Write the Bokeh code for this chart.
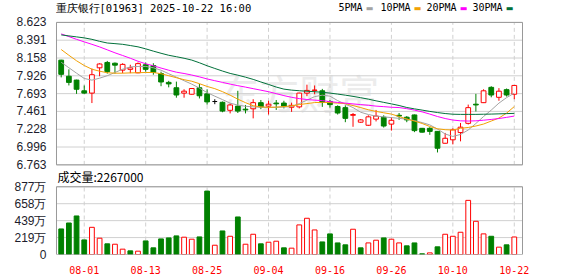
from bokeh.plotting import figure
from bokeh.models import Range1d, FixedTicker, Label, PrintfTickFormatter, ColumnDataSource
from bokeh.embed import file_html
from bokeh.resources import INLINE

# ---------------- data ----------------
title_text = "重庆银行[01963] 2025-10-22 16:00"
volume_text = "成交量:2267000"

dates = ["07-29", "07-30", "07-31", "08-01", "08-04", "08-05", "08-06", "08-07", "08-08",
         "08-11", "08-12", "08-13", "08-14", "08-15", "08-18", "08-19", "08-20", "08-21",
         "08-22", "08-25", "08-26", "08-27", "08-28", "08-29", "09-01", "09-02", "09-03",
         "09-04", "09-05", "09-08", "09-09", "09-10", "09-11", "09-12", "09-15", "09-16",
         "09-17", "09-18", "09-19", "09-22", "09-23", "09-24", "09-25", "09-26", "09-29",
         "09-30", "10-02", "10-03", "10-06", "10-08", "10-09", "10-10", "10-13", "10-14",
         "10-15", "10-16", "10-17", "10-20", "10-21", "10-22"]
tick_dates = ["08-01", "08-13", "08-25", "09-04", "09-16", "09-26", "10-10", "10-22"]

open_ = [8.130, 7.920, 7.870, 7.730, 7.700, 8.030, 8.100, 8.090, 8.000, 8.010,
         7.965, 8.070, 8.060, 7.955, 7.840, 7.770, 7.700, 7.685, 7.770, 7.690,
         7.590, 7.580, 7.475, 7.530, 7.490, 7.495, 7.575, 7.530, 7.570, 7.570,
         7.515, 7.520, 7.700, 7.735, 7.730, 7.590, 7.525, 7.510, 7.410, 7.320,
         7.280, 7.360, 7.385, 7.295, 7.410, 7.385, 7.415, 7.240, 7.240, 7.200,
         7.045, 7.090, 7.185, 7.305, 7.555, 7.575, 7.775, 7.645, 7.745, 7.685]
high = [8.135, 8.010, 7.875, 7.800, 8.020, 8.090, 8.120, 8.100, 8.090, 8.070,
        8.100, 8.100, 8.090, 7.980, 7.860, 7.850, 7.750, 7.765, 7.820, 7.750,
        7.620, 7.590, 7.565, 7.730, 7.545, 7.620, 7.610, 7.600, 7.610, 7.600,
        7.575, 7.705, 7.810, 7.800, 7.755, 7.610, 7.540, 7.540, 7.440, 7.360,
        7.410, 7.480, 7.410, 7.385, 7.440, 7.400, 7.420, 7.245, 7.255, 7.200,
        7.180, 7.240, 7.310, 7.550, 7.690, 7.750, 7.790, 7.765, 7.760, 7.805]
low = [7.905, 7.800, 7.690, 7.690, 7.570, 7.920, 7.955, 7.955, 7.960, 7.960,
       7.960, 7.980, 7.940, 7.790, 7.775, 7.640, 7.640, 7.680, 7.630, 7.550,
       7.555, 7.450, 7.435, 7.440, 7.435, 7.370, 7.490, 7.420, 7.480, 7.500,
       7.455, 7.500, 7.660, 7.685, 7.520, 7.510, 7.420, 7.320, 7.260, 7.310,
       7.270, 7.330, 7.250, 7.210, 7.350, 7.320, 7.190, 7.185, 7.155, 6.925,
       7.040, 7.030, 7.070, 7.290, 7.460, 7.570, 7.645, 7.600, 7.655, 7.620]
close = [7.945, 7.840, 7.750, 7.700, 7.940, 8.080, 7.980, 8.065, 8.075, 8.030,
         8.085, 8.010, 7.970, 7.845, 7.820, 7.675, 7.725, 7.760, 7.665, 7.585,
         7.590, 7.465, 7.545, 7.465, 7.480, 7.575, 7.520, 7.555, 7.560, 7.530,
         7.540, 7.700, 7.735, 7.740, 7.580, 7.550, 7.440, 7.370, 7.420, 7.350,
         7.390, 7.400, 7.270, 7.345, 7.400, 7.350, 7.210, 7.190, 7.200, 6.980,
         7.110, 7.220, 7.255, 7.510, 7.545, 7.730, 7.675, 7.725, 7.675, 7.800]

ma5 = [8.103, 8.031, 7.960, 7.891, 7.869, 7.895, 7.927, 7.969, 8.012, 8.042,
       8.048, 8.048, 8.031, 7.999, 7.953, 7.908, 7.862, 7.817, 7.765, 7.706,
       7.660, 7.615, 7.569, 7.543, 7.528, 7.520, 7.515, 7.514, 7.514, 7.517,
       7.526, 7.563, 7.608, 7.654, 7.673, 7.660, 7.602, 7.556, 7.511, 7.450,
       7.420, 7.400, 7.390, 7.380, 7.370, 7.360, 7.340, 7.315, 7.285, 7.231,
       7.166, 7.134, 7.160, 7.218, 7.303, 7.394, 7.478, 7.569, 7.641, 7.700]
ma10 = [8.269, 8.194, 8.122, 8.060, 8.012, 7.986, 7.966, 7.960, 7.960, 7.964,
        7.966, 7.969, 7.969, 7.953, 7.927, 7.901, 7.875, 7.855, 7.823, 7.787,
        7.758, 7.719, 7.673, 7.621, 7.575, 7.535, 7.520, 7.514, 7.517, 7.524,
        7.533, 7.550, 7.563, 7.576, 7.579, 7.576, 7.569, 7.563, 7.537, 7.511,
        7.482, 7.461, 7.443, 7.426, 7.394, 7.361, 7.335, 7.303, 7.264, 7.234,
        7.222, 7.218, 7.240, 7.251, 7.270, 7.296, 7.335, 7.374, 7.439, 7.524]
ma20 = [8.473, 8.438, 8.402, 8.369, 8.337, 8.303, 8.265, 8.226, 8.191, 8.155,
        8.116, 8.083, 8.057, 8.027, 7.999, 7.973, 7.956, 7.936, 7.912, 7.885,
        7.862, 7.840, 7.817, 7.797, 7.778, 7.758, 7.738, 7.718, 7.693, 7.667,
        7.645, 7.628, 7.616, 7.608, 7.602, 7.589, 7.578, 7.569, 7.559, 7.550,
        7.541, 7.530, 7.523, 7.515, 7.511, 7.497, 7.478, 7.455, 7.426, 7.394,
        7.368, 7.348, 7.338, 7.335, 7.338, 7.346, 7.356, 7.368, 7.383, 7.400]
ma30 = [8.460, 8.447, 8.434, 8.421, 8.402, 8.376, 8.354, 8.346, 8.337, 8.321,
        8.304, 8.278, 8.248, 8.220, 8.194, 8.175, 8.155, 8.131, 8.096, 8.057,
        8.022, 7.988, 7.957, 7.934, 7.908, 7.879, 7.845, 7.813, 7.779, 7.752,
        7.739, 7.731, 7.724, 7.718, 7.711, 7.700, 7.687, 7.673, 7.657, 7.640,
        7.621, 7.599, 7.579, 7.559, 7.538, 7.512, 7.494, 7.478, 7.461, 7.446,
        7.433, 7.424, 7.422, 7.422, 7.422, 7.424, 7.426, 7.429, 7.432, 7.435]

volume = [3310000, 4080000, 4990000, 1890000, 3520000, 2110000, 1380000, 1330000, 690000, 470000,
          430000, 1760000, 860000, 2020000, 2150000, 2410000, 2240000, 1980000, 2280000, 8210000,
          1200000, 3050000, 2360000, 4860000, 1330000, 2620000, 1380000, 1590000, 1720000, 860000,
          820000, 3830000, 4690000, 3180000, 1630000, 2670000, 1500000, 1250000, 3270000, 860000,
          1500000, 1850000, 2150000, 1980000, 1500000, 1120000, 1500000, 90000, 210000, 990000,
          2620000, 2360000, 2880000, 7010000, 4300000, 2670000, 2360000, 950000, 1250000, 2267000]
# 1 = volume drawn red (close above previous close), 0 = green
volume_up = [0, 0, 0, 0, 1, 1, 0, 1, 1, 0,
             1, 0, 0, 0, 0, 0, 1, 1, 0, 0,
             1, 0, 1, 0, 1, 1, 0, 1, 1, 0,
             1, 1, 1, 1, 0, 0, 0, 0, 1, 0,
             1, 1, 0, 1, 1, 0, 0, 0, 1, 0,
             1, 1, 1, 1, 1, 1, 0, 1, 0, 1]

price_ticks = [6.763, 6.996, 7.228, 7.461, 7.693, 7.926, 8.158, 8.391, 8.623]
vol_ticks = [0, 2192500, 4385000, 6577500, 8770000]
vol_tick_labels = ["0", "219万", "439万", "658万", "877万"]

ma_names = ["5PMA", "10PMA", "20PMA", "30PMA"]
ma_colors = ["#a3a3a3", "#f2a104", "#ff00ff", "#00703a"]

# ---------------- styles / layout ----------------
RED = "#ff0000"
GREEN = "#008000"
GRID = "#d0d0d0"
BORDER = "#999999"
LABEL_FONT = "Liberation Sans"
MONO = "DejaVu Sans Mono"
CJK = "Noto Sans CJK SC"
W, H = 578, 276
PX = 7.68                  # pixels per trading day
X0, X1 = -0.612, 60.07     # panel extent in trading-day units
FRAME_H = 255              # frame: top of page to top of date labels
P_TOP, P_BOT = 22, 165     # price panel, px from top
V_TOP, V_BOT = 187, 255    # volume panel, px from top

n = len(close)
idx = list(range(n))
tick_idx = [dates.index(d) for d in tick_dates]

p_lo, p_hi = price_ticks[0], price_ticks[-1]
ps = (p_hi - p_lo) / (P_BOT - P_TOP)
price_range = Range1d(p_lo - (FRAME_H - P_BOT) * ps, p_hi + P_TOP * ps)
v_lo, v_hi = vol_ticks[0], vol_ticks[-1]
vs = (v_hi - v_lo) / (V_BOT - V_TOP)
vol_range = Range1d(v_lo - (FRAME_H - V_BOT) * vs, v_hi + V_TOP * vs)

p = figure(width=W, height=H, x_range=Range1d(X0 - 1 / PX, X1 + 1 / PX), y_range=price_range,
           output_backend="svg", toolbar_location=None,
           min_border_left=55, min_border_right=55, min_border_top=0, min_border_bottom=H - FRAME_H)
p.extra_y_ranges = {"vol": vol_range}
p.background_fill_color = "white"
p.border_fill_color = "white"
p.outline_line_color = None
p.xgrid.visible = False
p.ygrid.visible = False

# one left axis labels both panels: volume ticks placed at their position on the price scale
def vol_to_price(v):
    return price_range.start + (v - vol_range.start) / (vol_range.end - vol_range.start) * \
        (price_range.end - price_range.start)

vol_tick_pos = [vol_to_price(v) for v in vol_ticks]
p.yaxis.ticker = FixedTicker(ticks=price_ticks + vol_tick_pos)
p.yaxis.formatter = PrintfTickFormatter(format="%.3f")
p.yaxis.major_label_overrides = {t: s for t, s in zip(vol_tick_pos, vol_tick_labels)}
p.yaxis.axis_line_color = None
p.yaxis.major_tick_line_color = None
p.yaxis.minor_tick_line_color = None
p.yaxis.major_label_text_font = LABEL_FONT
p.yaxis.major_label_text_font_size = "12px"
p.yaxis.major_label_text_color = "#1c1c2c"
p.yaxis.major_label_standoff = 3

p.xaxis.ticker = FixedTicker(ticks=tick_idx)
p.xaxis.major_label_overrides = {i: d for i, d in zip(tick_idx, tick_dates)}
p.xaxis.axis_line_color = None
p.xaxis.major_tick_line_color = None
p.xaxis.minor_tick_line_color = None
p.xaxis.major_label_text_font = MONO
p.xaxis.major_label_text_font_size = "10px"
p.xaxis.major_label_text_color = RED
p.xaxis.major_label_standoff = 5

# ---------------- price panel ----------------
p.segment(x0=X0, x1=X1, y0=price_ticks, y1=price_ticks, line_color=GRID, line_width=1)
p.segment(x0=tick_idx, x1=tick_idx, y0=p_lo, y1=p_hi, line_color=GRID, line_width=1,
          line_dash="4 3")

p.add_layout(Label(x=31.0, y=7.715, text="东方财富", text_align="center", text_baseline="middle",
                   text_font=CJK, text_font_size="40px", text_color="#ececec", level="underlay"))

cand_color = [RED if c > o else (GREEN if c < o else "#000000") for o, c in zip(open_, close)]
fills = ["white" if c > o else col for o, c, col in zip(open_, close, cand_color)]

src = ColumnDataSource(dict(x=idx, h=high, l=low, col=cand_color))
p.segment(x0="x", y0="l", x1="x", y1="h", color="col", line_width=1, source=src)
body_idx = [i for i in idx if open_[i] != close[i]]
doji_idx = [i for i in idx if open_[i] == close[i]]
bsrc = ColumnDataSource(dict(x=[idx[i] for i in body_idx],
                             top=[max(open_[i], close[i]) for i in body_idx],
                             bot=[min(open_[i], close[i]) for i in body_idx],
                             col=[cand_color[i] for i in body_idx],
                             fill=[fills[i] for i in body_idx]))
p.vbar(x="x", width=0.62, top="top", bottom="bot", fill_color="fill", line_color="col",
       line_width=1, source=bsrc)
if doji_idx:
    p.segment(x0=[idx[i] - 0.31 for i in doji_idx], x1=[idx[i] + 0.31 for i in doji_idx],
              y0=[close[i] for i in doji_idx], y1=[close[i] for i in doji_idx],
              color="#000000", line_width=1)

for ma, col in zip([ma5, ma10, ma20, ma30], ma_colors):
    p.line(idx, ma, line_color=col, line_width=1)

p.quad(left=[X0], right=[X1], bottom=[p_lo], top=[p_hi], fill_color=None,
       line_color=BORDER, line_width=1)

# ---------------- volume panel ----------------
p.segment(x0=X0, x1=X1, y0=vol_ticks, y1=vol_ticks, line_color=GRID, line_width=1,
          y_range_name="vol")
p.segment(x0=tick_idx, x1=tick_idx, y0=v_lo, y1=v_hi, line_color=GRID, line_width=1,
          line_dash="4 3", y_range_name="vol")
vsrc = ColumnDataSource(dict(x=idx, v=volume,
                             col=[RED if u else GREEN for u in volume_up],
                             fill=["white" if u else GREEN for u in volume_up]))
p.vbar(x="x", width=0.62, top="v", bottom=0, fill_color="fill", line_color="col",
       line_width=1, source=vsrc, y_range_name="vol")
p.quad(left=[X0], right=[X1], bottom=[v_lo], top=[v_hi], fill_color=None,
       line_color=BORDER, line_width=1, y_range_name="vol")

# ---------------- texts ----------------
p.add_layout(Label(x=0, y=FRAME_H - 8, x_units="screen", y_units="screen", text=title_text,
                   text_baseline="middle", text_font=MONO, text_font_size="10.5px",
                   text_color="#000000"))
leg_x = [283, 325, 371, 417]
for name, col, lx in zip(ma_names, ma_colors, leg_x):
    p.add_layout(Label(x=lx, y=FRAME_H - 8, x_units="screen", y_units="screen", text=name,
                       text_baseline="middle", text_font=MONO, text_font_size="10px",
                       text_color="#000000"))
    p.add_layout(Label(x=lx + 6.05 * len(name) + 3, y=FRAME_H - 8.5, x_units="screen",
                       y_units="screen", text="\u25ac", text_baseline="middle",
                       text_font="DejaVu Sans", text_font_size="8px", text_color=col))

p.add_layout(Label(x=2, y=FRAME_H - 177, x_units="screen", y_units="screen", text=volume_text,
                   text_baseline="middle", text_font=CJK, text_font_size="12px",
                   text_color="#000000"))

open("out.html", "w").write(file_html(p, INLINE))
